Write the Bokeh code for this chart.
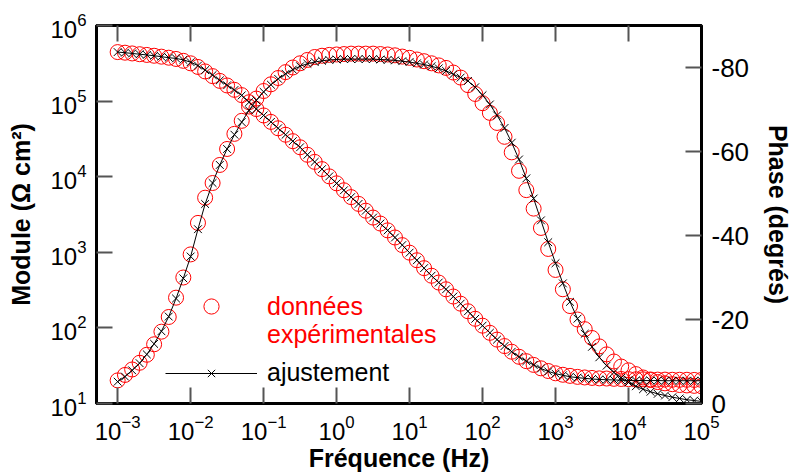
from bokeh.plotting import figure
from bokeh.models import (Range1d, LinearAxis, LogAxis, LinearScale, FixedTicker,
                          Legend, LegendItem, CustomJSTickFormatter)
from bokeh.embed import file_html
from bokeh.resources import INLINE

FONT = "Liberation Sans"

# ---------------- data ----------------
freq = [1.00e-3, 1.26e-3, 1.58e-3, 2.00e-3, 2.51e-3, 3.16e-3, 3.98e-3, 5.01e-3, 6.31e-3, 7.94e-3,
        1.00e-2, 1.26e-2, 1.58e-2, 2.00e-2, 2.51e-2, 3.16e-2, 3.98e-2, 5.01e-2, 6.31e-2, 7.94e-2,
        1.00e-1, 1.26e-1, 1.58e-1, 2.00e-1, 2.51e-1, 3.16e-1, 3.98e-1, 5.01e-1, 6.31e-1, 7.94e-1,
        1.00e0, 1.26e0, 1.58e0, 2.00e0, 2.51e0, 3.16e0, 3.98e0, 5.01e0, 6.31e0, 7.94e0,
        1.00e1, 1.26e1, 1.58e1, 2.00e1, 2.51e1, 3.16e1, 3.98e1, 5.01e1, 6.31e1, 7.94e1,
        1.00e2, 1.26e2, 1.58e2, 2.00e2, 2.51e2, 3.16e2, 3.98e2, 5.01e2, 6.31e2, 7.94e2,
        1.00e3, 1.26e3, 1.58e3, 2.00e3, 2.51e3, 3.16e3, 3.98e3, 5.01e3, 6.31e3, 7.94e3,
        1.00e4, 1.26e4, 1.58e4, 2.00e4, 2.51e4, 3.16e4, 3.98e4, 5.01e4, 6.31e4, 7.94e4,
        1.00e5]

# module, experimental (ohm cm2)
mod_exp = [4.45e5, 4.37e5, 4.27e5, 4.17e5, 4.08e5, 3.98e5, 3.87e5, 3.75e5, 3.61e5, 3.41e5,
           3.16e5, 2.83e5, 2.47e5, 2.14e5, 1.85e5, 1.61e5, 1.41e5, 1.20e5, 9.66e4, 7.85e4,
           6.46e4, 5.31e4, 4.37e4, 3.59e4, 2.95e4, 2.45e4, 1.95e4, 1.57e4, 1.26e4, 1.01e4,
           8170, 6610, 5370, 4370, 3550, 2880, 2400, 1950, 1570, 1245,
           989, 785, 617, 490, 398, 324, 260, 209, 166, 132,
           107, 86.1, 70.0, 57.5, 48.4, 41.5, 36.3, 32.4, 29.2, 26.9,
           25.1, 24.0, 23.2, 22.5, 22.1, 21.8, 21.5, 21.4, 21.2, 21.1,
           21.0, 20.9, 20.9, 20.8, 20.7, 20.7, 20.6, 20.6, 20.6, 20.5,
           20.5]

# module, fit (ohm cm2)
mod_fit = [4.45e5, 4.37e5, 4.27e5, 4.17e5, 4.08e5, 3.98e5, 3.87e5, 3.75e5, 3.67e5, 3.51e5,
           3.27e5, 2.95e5, 2.57e5, 2.21e5, 1.88e5, 1.62e5, 1.40e5, 1.19e5, 9.66e4, 7.85e4,
           6.46e4, 5.31e4, 4.37e4, 3.59e4, 2.95e4, 2.45e4, 1.95e4, 1.57e4, 1.26e4, 1.01e4,
           8170, 6610, 5370, 4370, 3550, 2880, 2400, 1950, 1570, 1245,
           989, 785, 617, 490, 398, 324, 260, 209, 166, 132,
           107, 86.1, 70.0, 57.5, 48.4, 41.5, 36.3, 32.4, 29.0, 26.6,
           24.8, 23.6, 22.6, 22.0, 21.5, 21.1, 20.8, 20.6, 20.5, 20.3,
           20.2, 20.2, 20.1, 20.1, 20.1, 20.0, 20.0, 20.0, 20.0, 20.0,
           20.0]

# phase, experimental (degrees)
phase_exp = [-5.5, -6.8, -8.1, -9.7, -11.6, -14.1, -17.1, -20.6, -25.2, -30.0,
             -35.5, -43.0, -49.0, -52.5, -56.8, -60.6, -64.2, -67.3, -70.7, -72.6,
             -74.4, -76.0, -77.5, -78.9, -80.0, -81.0, -81.8, -82.5, -82.8, -83.0,
             -83.1, -83.2, -83.3, -83.3, -83.3, -83.3, -83.2, -83.1, -82.9, -82.6,
             -82.3, -81.9, -81.5, -81.0, -80.5, -79.9, -78.8, -77.6, -75.8, -73.7,
             -71.5, -69.2, -66.8, -63.5, -59.8, -55.4, -50.8, -46.4, -41.8, -36.8,
             -31.8, -27.2, -23.2, -20.0, -17.7, -15.6, -13.6, -11.7, -10.0, -8.8,
             -7.9, -7.0, -6.2, -5.6, -5.1, -4.8, -4.6, -4.4, -4.3, -4.2,
             -4.1]

# phase, fit (degrees)
phase_fit = [-5.2, -6.4, -7.9, -9.6, -11.7, -14.2, -17.2, -20.7, -25.0, -29.8,
             -35.0, -41.5, -47.5, -52.5, -56.8, -60.6, -64.0, -67.0, -69.8, -72.2,
             -74.2, -75.9, -77.3, -78.5, -79.5, -80.3, -80.9, -81.3, -81.6, -81.8,
             -81.9, -82.0, -82.0, -82.0, -82.0, -82.0, -81.9, -81.8, -81.7, -81.5,
             -81.3, -81.0, -80.7, -80.3, -79.8, -79.2, -78.4, -77.6, -76.8, -75.3,
             -73.4, -71.2, -68.6, -65.6, -62.1, -58.1, -53.6, -48.8, -43.6, -38.4,
             -33.4, -28.6, -24.2, -20.2, -16.6, -13.5, -11.0, -9.0, -7.4, -6.1,
             -5.0, -4.1, -3.4, -2.8, -2.3, -1.9, -1.5, -1.2, -0.9, -0.7,
             -0.5]

x_ticks = [1e-3, 1e-2, 1e-1, 1e0, 1e1, 1e2, 1e3, 1e4, 1e5]
y_ticks = [1e1, 1e2, 1e3, 1e4, 1e5, 1e6]
phase_ticks = [0, -20, -40, -60, -80]
phase_tick_labels = ["0", "-20", "-40", "-60", "-80"]

# ---------------- figure ----------------
p = figure(width=795, height=474, x_axis_type="log", y_axis_type="log",
           x_range=Range1d(5.13e-4, 1.0e5), y_range=Range1d(10, 1e6),
           output_backend="svg", toolbar_location=None,
           min_border_left=96, min_border_right=90, min_border_top=25, min_border_bottom=70)
p.extra_y_ranges = {"phase": Range1d(start=0, end=-90)}
p.extra_y_scales = {"phase": LinearScale()}
p.xgrid.visible = False
p.ygrid.visible = False
p.outline_line_color = "black"
p.outline_line_width = 3
p.background_fill_color = "white"
p.border_fill_color = "white"


def style(ax, size):
    ax.major_tick_in = 16
    ax.major_tick_out = 0
    ax.minor_tick_in = 0
    ax.minor_tick_out = 0
    ax.minor_tick_line_color = None
    ax.major_tick_line_color = "#555555"
    ax.major_tick_line_width = 2
    ax.axis_line_color = "black"
    ax.axis_line_width = 3
    ax.major_label_text_font = FONT
    ax.major_label_text_font_size = size
    ax.major_label_text_color = "black"
    ax.axis_label_text_font = FONT
    ax.axis_label_text_font_size = "25px"
    ax.axis_label_text_font_style = "bold"
    ax.axis_label_text_color = "black"


xb = p.xaxis[0]
xb.ticker = FixedTicker(ticks=x_ticks)
xb.axis_label = "Fréquence (Hz)"
style(xb, "24px")
xb.major_label_standoff = 11
xb.axis_label_standoff = 1

yl = p.yaxis[0]
yl.ticker = FixedTicker(ticks=y_ticks)
yl.axis_label = "Module (Ω cm²)"
style(yl, "24px")
yl.major_label_standoff = 10
yl.axis_label_standoff = 12

xt = LogAxis(ticker=FixedTicker(ticks=x_ticks),
             formatter=CustomJSTickFormatter(code="return ''"))
style(xt, "10px")
p.add_layout(xt, "above")

yr = LinearAxis(y_range_name="phase", ticker=FixedTicker(ticks=phase_ticks),
                axis_label="Phase (degrés)",
                major_label_overrides=dict(zip(phase_ticks, phase_tick_labels)))
style(yr, "26px")
yr.major_label_standoff = 10
yr.axis_label_standoff = 12
p.add_layout(yr, "right")

# ---------------- glyphs ----------------
c_mod = p.scatter(freq, mod_exp, marker="circle", size=15, fill_color=None,
                  line_color="#ff0000", line_width=1)
p.scatter(freq, phase_exp, marker="circle", size=15, fill_color=None,
          line_color="#ff0000", line_width=1, y_range_name="phase")

l_fit = p.line(freq, mod_fit, line_color="black", line_width=1)
x_fit = p.scatter(freq, mod_fit, marker="x", size=11, line_color="black", line_width=1)
p.line(freq, phase_fit, line_color="black", line_width=1, y_range_name="phase")
p.scatter(freq, phase_fit, marker="x", size=11, line_color="black", line_width=1,
          y_range_name="phase")

ghost = p.scatter(x=[], y=[], marker="circle", size=1, fill_alpha=0, line_alpha=0)

common = dict(glyph_width=92, label_standoff=10, padding=0, margin=0,
              border_line_color=None, background_fill_alpha=0,
              label_text_font=FONT, label_text_font_size="25px", label_height=26)

leg1 = Legend(items=[LegendItem(label="données", renderers=[c_mod])],
              location=(69, 78), glyph_height=38, label_text_color="#ff0000", **common)
leg1b = Legend(items=[LegendItem(label="expérimentales", renderers=[ghost])],
               location=(69, 54), glyph_height=26, label_text_color="#ff0000", **common)
leg2 = Legend(items=[LegendItem(label="ajustement", renderers=[l_fit, x_fit])],
              location=(69, 16), glyph_height=26, label_text_color="black", **common)
p.add_layout(leg1)
p.add_layout(leg1b)
p.add_layout(leg2)

open("out.html", "w").write(file_html(p, INLINE, title="Bode"))
